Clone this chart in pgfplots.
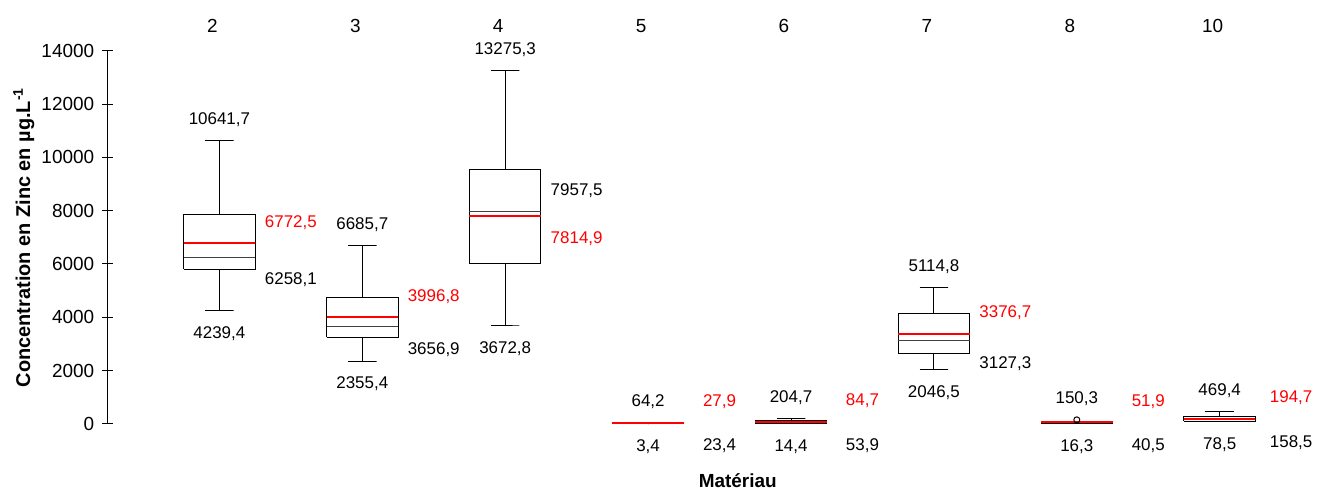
\documentclass[border=0pt]{standalone}
\usepackage{pgfplots}
\pgfplotsset{compat=1.18}
\usepackage{fontspec}
\setmainfont{Liberation Sans}
\begin{document}
\fontsize{8.5}{10}\selectfont
\begin{tikzpicture}
\begin{axis}[
  scale only axis,
  width=600.5pt, height=187pt,
  xmin=0.2184, xmax=8.6,
  ymin=0, ymax=14000,
  clip=false,
  axis y line*=left,
  axis x line*=top,
  x axis line style={draw=none},
  y axis line style={black, line width=0.5pt},
  xtick={1,2,3,4,5,6,7,8},
  xticklabels={2,3,4,5,6,7,8,10},
  xtick style={draw=none},
  x tick label style={font=\fontsize{9.5}{11}\selectfont, xshift=-3.5pt, yshift=3.5pt},
  ytick={0,2000,4000,6000,8000,10000,12000,14000},
  scaled y ticks=false,
  y tick label style={font=\fontsize{9.5}{11}\selectfont, xshift=-1pt},
  ytick style={black, line width=0.5pt},
  tick align=center,
  major tick length=5.5pt,
  /pgf/number format/assume math mode=true,
  /pgf/number format/1000 sep={},
  ylabel={\bfseries Concentration en Zinc en µg.L\textsuperscript{-1}},
  y label style={at={(axis description cs:-0.070,0.5)}, anchor=center, font=\fontsize{10}{12}\selectfont},
  xlabel={\bfseries Matériau},
  x label style={at={(axis description cs:0.526,-0.152)}, anchor=center, font=\fontsize{9.5}{11}\selectfont},
  unbounded coords=jump,
]
% whiskers with caps (min, max)
\addplot[black, line width=0.5pt, mark=none] coordinates {
 (0.9,10641.7) (1.1,10641.7) (1,10641.7) (1,7850) (1,nan) (0.9,4239.4) (1.1,4239.4) (1,4239.4) (1,5803) (1,nan)
 (1.9,6685.7) (2.1,6685.7) (2,6685.7) (2,4755) (2,nan) (1.9,2355.4) (2.1,2355.4) (2,2355.4) (2,3257) (2,nan)
 (2.9,13275.3) (3.1,13275.3) (3,13275.3) (3,9547) (3,nan) (2.9,3672.8) (3.1,3672.8) (3,3672.8) (3,6028) (3,nan)
 (3.9,64.2) (4.1,64.2) (4,64.2) (4,40) (4,nan) (3.9,3.4) (4.1,3.4) (4,3.4) (4,12) (4,nan)
 (4.9,204.7) (5.1,204.7) (5,204.7) (5,115) (5,nan) (4.9,14.4) (5.1,14.4) (5,14.4) (5,28) (5,nan)
 (5.9,5114.8) (6.1,5114.8) (6,5114.8) (6,4156) (6,nan) (5.9,2046.5) (6.1,2046.5) (6,2046.5) (6,2658) (6,nan)
 (6.9,85) (7.1,85) (7,85) (7,62) (7,nan) (6.9,16.3) (7.1,16.3) (7,16.3) (7,25) (7,nan)
 (7.9,469.4) (8.1,469.4) (8,469.4) (8,285) (8,nan) (7.9,78.5) (8.1,78.5) (8,78.5) (8,90)
};
% boxes (lower quartile to upper quartile)
\addplot[black, line width=0.5pt, mark=none, line join=miter] coordinates {
 (0.75,5803) (1.25,5803) (1.25,7850) (0.75,7850) (0.75,5803) (1,nan)
 (1.75,3257) (2.25,3257) (2.25,4755) (1.75,4755) (1.75,3257) (2,nan)
 (2.75,6028) (3.25,6028) (3.25,9547) (2.75,9547) (2.75,6028) (3,nan)
 (3.75,12) (4.25,12) (4.25,40) (3.75,40) (3.75,12) (4,nan)
 (4.75,28) (5.25,28) (5.25,115) (4.75,115) (4.75,28) (5,nan)
 (5.75,2658) (6.25,2658) (6.25,4156) (5.75,4156) (5.75,2658) (6,nan)
 (6.75,25) (7.25,25) (7.25,62) (6.75,62) (6.75,25) (7,nan)
 (7.75,90) (8.25,90) (8.25,285) (7.75,285) (7.75,90)
};
% medians
\addplot[black!75, line width=0.6pt, mark=none] coordinates {
 (0.75,6258.1) (1.25,6258.1) (1,nan) (1.75,3656.9) (2.25,3656.9) (2,nan)
 (2.75,7957.5) (3.25,7957.5) (3,nan) (3.75,23.4) (4.25,23.4) (4,nan)
 (4.75,53.9) (5.25,53.9) (5,nan) (5.75,3127.3) (6.25,3127.3) (6,nan)
 (6.75,40.5) (7.25,40.5) (7,nan) (7.75,158.5) (8.25,158.5)
};
% outlier of material 8
\addplot[only marks, mark=o, mark size=1.5pt, mark options={black, line width=0.5pt}] coordinates {(7,150.3)};
% means
\addplot[red, line width=1pt, mark=none] coordinates {
 (0.75,6772.5) (1.25,6772.5) (1,nan) (1.75,3996.8) (2.25,3996.8) (2,nan)
 (2.75,7814.9) (3.25,7814.9) (3,nan) (3.75,27.9) (4.25,27.9) (4,nan)
 (4.75,84.7) (5.25,84.7) (5,nan) (5.75,3376.7) (6.25,3376.7) (6,nan)
 (6.75,51.9) (7.25,51.9) (7,nan) (7.75,194.7) (8.25,194.7)
};
% labels
\node[yshift=10.5pt] at (axis cs:1,10641.7) {10641,7};
\node[yshift=-11.5pt] at (axis cs:1,4239.4) {4239,4};
\node[yshift=10.5pt, red] at (axis cs:1.5,6772.5) {6772,5};
\node[yshift=-11.5pt] at (axis cs:1.5,6258.1) {6258,1};
\node[yshift=10.5pt] at (axis cs:2,6685.7) {6685,7};
\node[yshift=-11.5pt] at (axis cs:2,2355.4) {2355,4};
\node[yshift=10.5pt, red] at (axis cs:2.5,3996.8) {3996,8};
\node[yshift=-11.5pt] at (axis cs:2.5,3656.9) {3656,9};
\node[yshift=10.5pt] at (axis cs:3,13275.3) {13275,3};
\node[yshift=-11.5pt] at (axis cs:3,3672.8) {3672,8};
\node[yshift=10.5pt] at (axis cs:3.5,7957.5) {7957,5};
\node[yshift=-11.5pt, red] at (axis cs:3.5,7814.9) {7814,9};
\node[yshift=10.5pt] at (axis cs:4,64.2) {64,2};
\node[yshift=-11.5pt] at (axis cs:4,3.4) {3,4};
\node[yshift=10.5pt, red] at (axis cs:4.5,27.9) {27,9};
\node[yshift=-11.5pt] at (axis cs:4.5,23.4) {23,4};
\node[yshift=10.5pt] at (axis cs:5,204.7) {204,7};
\node[yshift=-11.5pt] at (axis cs:5,14.4) {14,4};
\node[yshift=10.5pt, red] at (axis cs:5.5,84.7) {84,7};
\node[yshift=-11.5pt] at (axis cs:5.5,53.9) {53,9};
\node[yshift=10.5pt] at (axis cs:6,5114.8) {5114,8};
\node[yshift=-11.5pt] at (axis cs:6,2046.5) {2046,5};
\node[yshift=10.5pt, red] at (axis cs:6.5,3376.7) {3376,7};
\node[yshift=-11.5pt] at (axis cs:6.5,3127.3) {3127,3};
\node[yshift=10.5pt] at (axis cs:7,150.3) {150,3};
\node[yshift=-11.5pt] at (axis cs:7,16.3) {16,3};
\node[yshift=10.5pt, red] at (axis cs:7.5,51.9) {51,9};
\node[yshift=-11.5pt] at (axis cs:7.5,40.5) {40,5};
\node[yshift=10.5pt] at (axis cs:8,469.4) {469,4};
\node[yshift=-11.5pt] at (axis cs:8,78.5) {78,5};
\node[yshift=10.5pt, red] at (axis cs:8.5,194.7) {194,7};
\node[yshift=-11.5pt] at (axis cs:8.5,158.5) {158,5};
\end{axis}
\path (current axis.south west) ++(-54pt,-32.5pt) coordinate (bbsw);
\path (current axis.north east) ++(4.5pt,25.5pt) coordinate (bbne);
\useasboundingbox (bbsw) rectangle (bbne);
\end{tikzpicture}
\end{document}
